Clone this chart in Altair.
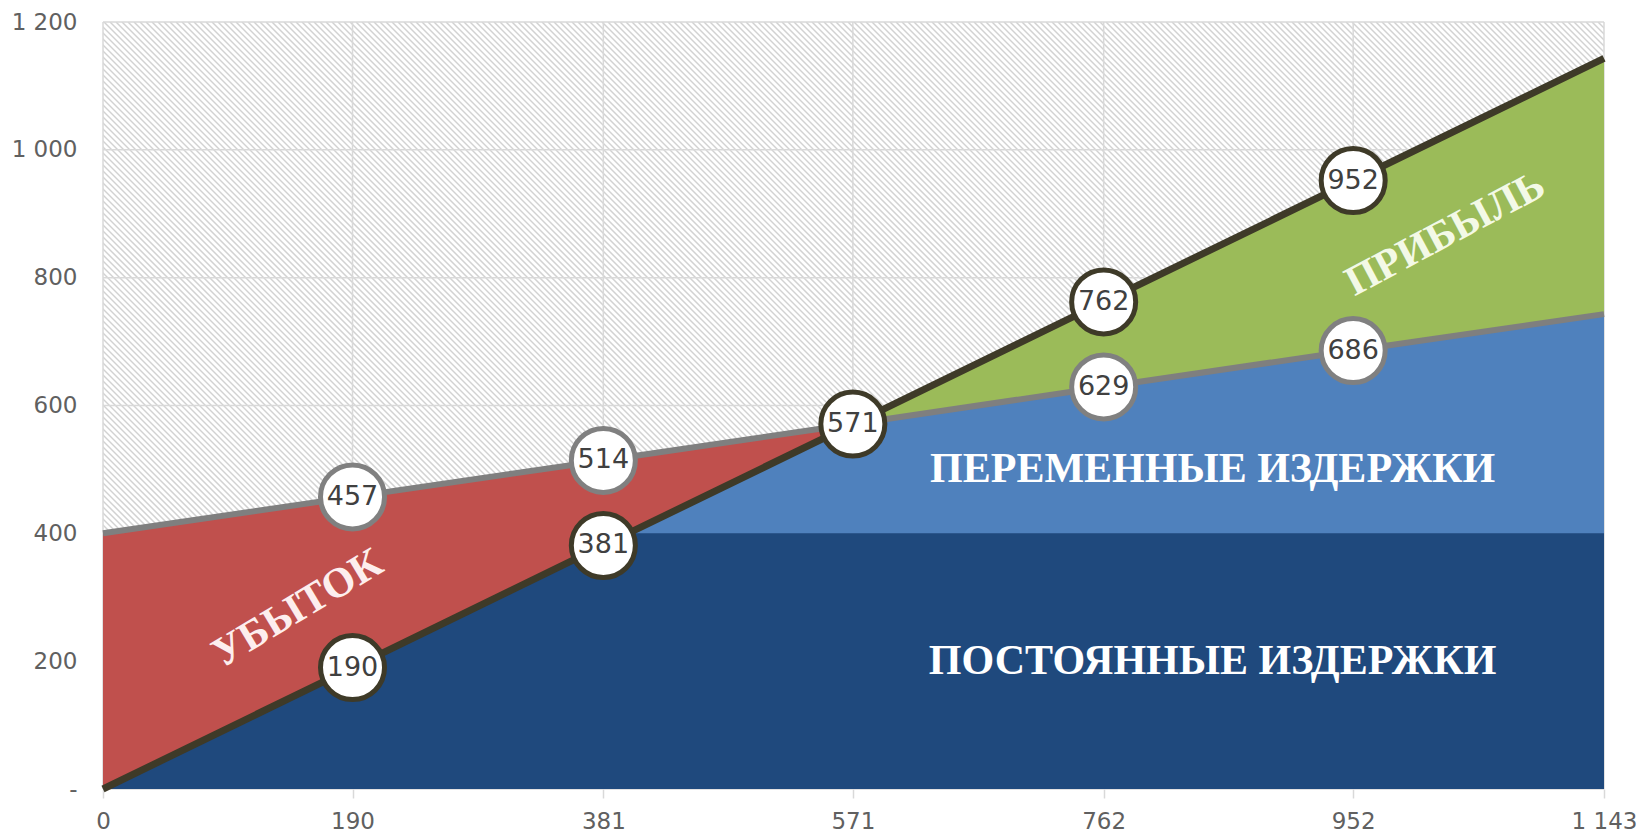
import altair as alt
import pandas as pd

# ---- data ----
volume = [0, 190, 381, 571, 762, 952, 1143]
revenue = [0, 190, 381, 571, 762, 952, 1143]
total_cost = [400, 457, 514, 571, 629, 686, 743]
fixed_cost = [400, 400, 400, 400, 400, 400, 400]
y_ticks = [0, 200, 400, 600, 800, 1000, 1200]
break_even = 571

annot_text = ["ПОСТОЯННЫЕ ИЗДЕРЖКИ", "ПЕРЕМЕННЫЕ ИЗДЕРЖКИ", "УБЫТОК", "ПРИБЫЛЬ"]
annot_x = [845, 845, 148, 1022]
annot_y = [200, 500, 283, 869]

W, H = 1501, 767

df = pd.DataFrame({"x": volume, "rev": revenue, "tc": total_cost, "fc": fixed_cost})
ann = pd.DataFrame({"t": annot_text, "x": annot_x, "y": annot_y})

xscale = alt.Scale(domain=[0, 1143], nice=False, zero=False)
yscale = alt.Scale(domain=[0, 1200], nice=False)

xaxis = alt.Axis(values=volume, grid=False, domain=False, ticks=True, tickSize=9,
                 tickColor="#d9d9d9", tickWidth=1.5, labelPadding=12,
                 labelFont="DejaVu Sans", labelFontSize=23, labelColor="#606060",
                 labelExpr="replace(format(datum.value, ','), ',', ' ')", title=None,
                 labelFlush=False)
yaxis = alt.Axis(values=y_ticks, grid=False, domain=False, ticks=False, labelPadding=26,
                 labelFont="DejaVu Sans", labelFontSize=23, labelColor="#606060",
                 labelExpr="datum.value == 0 ? '-' : replace(format(datum.value, ','), ',', ' ')",
                 title=None)

base = alt.Chart(df)

# hatch pattern for the empty background (pixel space)
hatch = alt.Chart(alt.sequence(0, 400, as_="i")).transform_calculate(
    hx="datum.i * 6 - 767", hx2="datum.i * 6", hy="0", hy2="767"
).mark_rule(color="#d2d2d2", strokeWidth=1.5, clip=True).encode(
    x=alt.X("hx:Q", scale=None, axis=None),
    x2="hx2:Q",
    y=alt.Y("hy:Q", scale=None, axis=None),
    y2="hy2:Q",
)

grid_v = alt.Chart(pd.DataFrame({"gx": volume})).mark_rule(color="#d9d9d9", strokeWidth=1.5).encode(
    x=alt.X("gx:Q", scale=xscale, axis=xaxis)
)
grid_h = alt.Chart(pd.DataFrame({"gy": y_ticks})).mark_rule(color="#d9d9d9", strokeWidth=1.5).encode(
    y=alt.Y("gy:Q", scale=yscale, axis=yaxis)
)

var_area = base.mark_area(color="#4F81BD", opacity=1).encode(
    x=alt.X("x:Q", scale=xscale), y=alt.Y("tc:Q", scale=yscale), y2=alt.datum(0)
)
fix_area = base.mark_area(color="#1F497D", opacity=1).encode(
    x="x:Q", y="fc:Q", y2=alt.datum(0)
)
loss_area = base.transform_filter(f"datum.x <= {break_even}").mark_area(color="#C0504D", opacity=1).encode(
    x="x:Q", y="rev:Q", y2="tc:Q"
)
profit_area = base.transform_filter(f"datum.x >= {break_even}").mark_area(color="#9BBB59", opacity=1).encode(
    x="x:Q", y="tc:Q", y2="rev:Q"
)

tc_line = base.mark_line(color="#7f7f7f", strokeWidth=6).encode(x="x:Q", y="tc:Q")
rev_line = base.mark_line(color="#3e3a28", strokeWidth=7).encode(x="x:Q", y="rev:Q")

cost_pts = base.transform_filter(
    f"datum.x > 0 && datum.x < 1143 && datum.x != {break_even}"
)
rev_pts = base.transform_filter("datum.x > 0 && datum.x < 1143")

cost_circ = cost_pts.mark_point(shape="circle", filled=False, fill="white", fillOpacity=1,
                                stroke="#808080", strokeWidth=5, size=4100, opacity=1).encode(
    x="x:Q", y="tc:Q")
cost_txt = cost_pts.mark_text(font="DejaVu Sans", fontSize=27, color="#404040",
                              baseline="middle", align="center").encode(
    x="x:Q", y="tc:Q", text=alt.Text("tc:Q", format="d"))
rev_circ = rev_pts.mark_point(shape="circle", filled=False, fill="white", fillOpacity=1,
                              stroke="#3e3a28", strokeWidth=5, size=4100, opacity=1).encode(
    x="x:Q", y="rev:Q")
rev_txt = rev_pts.mark_text(font="DejaVu Sans", fontSize=27, color="#404040",
                            baseline="middle", align="center").encode(
    x="x:Q", y="rev:Q", text=alt.Text("rev:Q", format="d"))

def annot(i, angle, color):
    return alt.Chart(ann.iloc[[i]]).mark_text(
        font="Liberation Serif", fontWeight="bold", fontSize=42, color=color,
        angle=angle, align="center", baseline="middle"
    ).encode(x="x:Q", y="y:Q", text="t:N")

a1 = annot(0, 0, "#ffffff")
a2 = annot(1, 0, "#ffffff")
a3 = annot(2, 329, "#fdeeee")
a4 = annot(3, 332, "#f3f9e6")

chart = alt.layer(
    hatch, grid_v, grid_h, var_area, fix_area, loss_area, profit_area,
    tc_line, rev_line, cost_circ, cost_txt, rev_circ, rev_txt, a1, a2, a3, a4
).properties(
    width=W, height=H,
    autosize=alt.AutoSizeParams(type="none"),
    padding={"left": 103, "top": 22, "right": 39, "bottom": 47},
    background="white",
).configure_view(stroke=None)

chart.save("out.html", embed_options={"renderer": "svg", "actions": False})
